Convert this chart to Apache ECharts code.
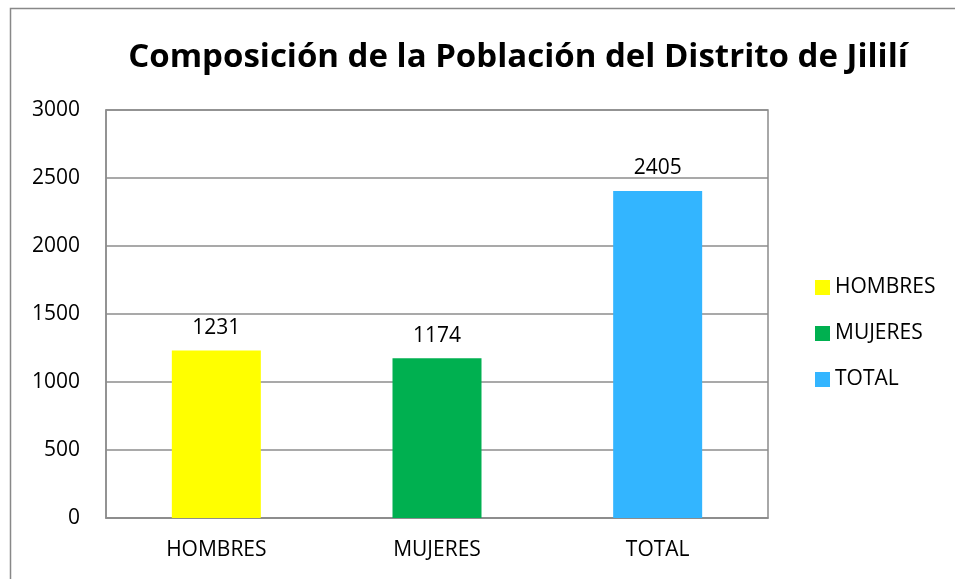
<!DOCTYPE html>
<html>
<head>
<meta charset="utf-8">
<script src="https://cdn.jsdelivr.net/npm/echarts@6/dist/echarts.min.js"></script>
<style>
  html, body { margin: 0; padding: 0; background: #fff; }
  #myChart { width: 955px; height: 579px; }
</style>
</head>
<body>
<div id="myChart"></div>
<script>
  // datos del gráfico
  const categories = ['HOMBRES', 'MUJERES', 'TOTAL']
  const hombres = [1231, null, null]
  const mujeres = [null, 1174, null]
  const total = [null, null, 2405]
  const yTicks = [0, 500, 1000, 1500, 2000, 2500, 3000]

  const font = '"Open Sans", "Noto Sans", sans-serif'
  const myChart = echarts.init(document.getElementById('myChart'))

  function barSeries(name, data, color) {
    return {
      name: name,
      type: 'bar',
      data: data,
      barWidth: 89,
      barGap: '-100%',
      itemStyle: { color: color },
      label: {
        show: true,
        position: 'top',
        distance: 12,
        color: '#000',
        fontSize: 21,
        fontFamily: font
      }
    }
  }

  myChart.setOption({
    animation: false,
    textStyle: { fontFamily: font },
    title: {
      text: 'Composición de la Población del Distrito de Jililí',
      left: 513,
      textAlign: 'center',
      top: 36,
      textStyle: { fontSize: 33, fontWeight: 'bold', color: '#000', fontFamily: font }
    },
    graphic: [{
      type: 'rect',
      shape: { x: 10.5, y: 8.5, width: 1000, height: 700 },
      style: { fill: 'none', stroke: '#888', lineWidth: 1.5 },
      silent: true
    }],
    legend: {
      orient: 'vertical',
      left: 810,
      top: 272,
      itemWidth: 15,
      itemHeight: 15,
      itemGap: 25,
      icon: 'rect',
      textStyle: { fontSize: 21, color: '#000', fontFamily: font },
      data: categories
    },
    grid: {
      left: 106,
      top: 110,
      width: 662,
      height: 408,
      containLabel: false,
      show: true,
      borderColor: '#8c8c8c',
      borderWidth: 1.5
    },
    xAxis: {
      type: 'category',
      data: categories,
      axisTick: { show: false },
      axisLine: { show: true, lineStyle: { color: '#8c8c8c', width: 1.5 } },
      axisLabel: { color: '#000', fontSize: 21, margin: 22, fontFamily: font }
    },
    yAxis: {
      type: 'value',
      min: yTicks[0],
      max: yTicks[yTicks.length - 1],
      interval: yTicks[1] - yTicks[0],
      axisLine: { show: true, lineStyle: { color: '#8c8c8c', width: 1.5 } },
      axisTick: { show: false },
      axisLabel: { color: '#000', fontSize: 21, margin: 26, fontFamily: font, formatter: v => String(v) },
      splitLine: { lineStyle: { color: '#8c8c8c', width: 1.5 } }
    },
    series: [
      barSeries('HOMBRES', hombres, '#ffff00'),
      barSeries('MUJERES', mujeres, '#00b050'),
      barSeries('TOTAL', total, '#33b5ff')
    ]
  })
</script>
</body>
</html>
